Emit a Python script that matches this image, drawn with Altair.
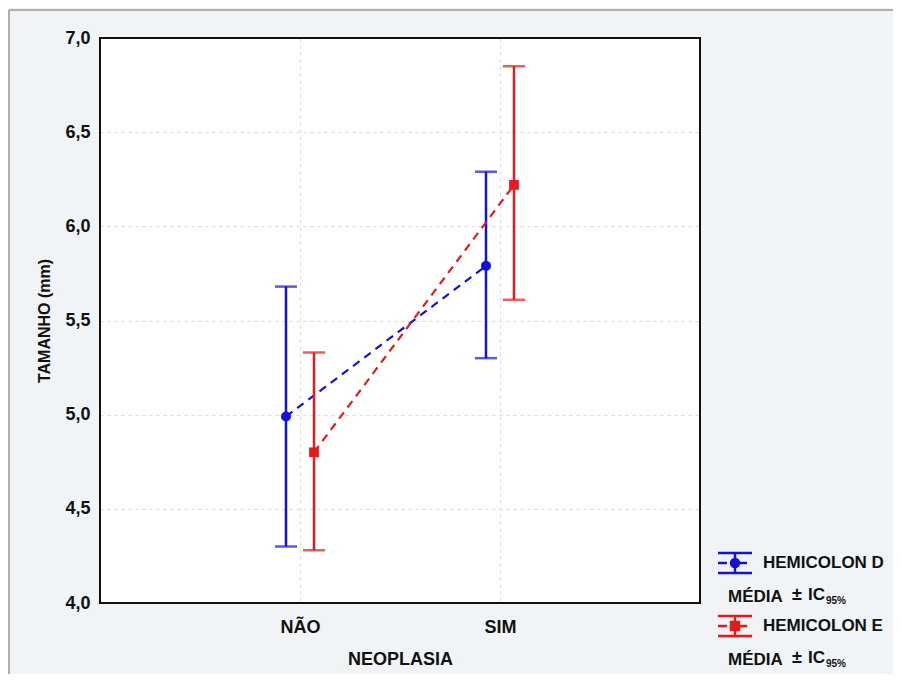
import altair as alt
import pandas as pd

categories = ["NÃO", "SIM"]
hd_mean = [4.99, 5.79]
hd_low = [4.30, 5.30]
hd_high = [5.68, 6.29]
he_mean = [4.80, 6.22]
he_low = [4.28, 5.61]
he_high = [5.33, 6.85]
y_ticks = [4.0, 4.5, 5.0, 5.5, 6.0, 6.5, 7.0]

BLUE = "#1212d8"
RED = "#e51b1b"
FONT = "Liberation Sans"

df_d = pd.DataFrame({"cat": categories, "mean": hd_mean, "low": hd_low, "high": hd_high})
df_e = pd.DataFrame({"cat": categories, "mean": he_mean, "low": he_low, "high": he_high})

xenc = alt.X("cat:N", sort=categories,
             scale=alt.Scale(type="point", padding=1, domain=categories),
             axis=alt.Axis(title="NEOPLASIA", labelAngle=0, labelFontSize=18,
                           labelFontWeight="bold", labelPadding=15, titlePadding=14,
                           titleFontSize=18, titleFontWeight="bold", ticks=False,
                           domain=False, grid=True, gridDash=[3, 4], gridColor="#d9d9d9",
                           labelColor="#111", titleColor="#111", labelFont=FONT, titleFont=FONT))


def yenc(field):
    return alt.Y(f"{field}:Q", scale=alt.Scale(domain=[4.0, 7.0], nice=False, zero=False),
                 axis=alt.Axis(title="TAMANHO (mm)", values=y_ticks,
                               labelExpr="replace(format(datum.value, '.1f'), '.', ',')",
                               labelFontSize=18, labelFontWeight="bold", labelPadding=10,
                               titleFontSize=16, titleFontWeight="bold", titlePadding=12,
                               ticks=False, domain=False, grid=True, gridDash=[3, 4],
                               gridColor="#d9d9d9", labelColor="#111", titleColor="#111",
                               labelFont=FONT, titleFont=FONT))


def series(df, color, off, shape, size):
    base = alt.Chart(df)
    line = base.mark_line(color=color, strokeWidth=2.2, strokeDash=[8, 6], xOffset=off).encode(
        x=xenc, y=yenc("mean"))
    rule = base.mark_rule(color=color, strokeWidth=2.5, xOffset=off).encode(
        x=xenc, y=yenc("low"), y2="high:Q")
    cap_lo = base.mark_tick(color=color, size=22, thickness=2.5, xOffset=off, orient="horizontal").encode(
        x=xenc, y=yenc("low"))
    cap_hi = base.mark_tick(color=color, size=22, thickness=2.5, xOffset=off, orient="horizontal").encode(
        x=xenc, y=yenc("high"))
    pt = base.mark_point(color=color, filled=True, opacity=1, shape=shape, size=size, xOffset=off).encode(
        x=xenc, y=yenc("mean"))
    return [line, rule, cap_lo, cap_hi, pt]


layers = series(df_d, BLUE, -14, "circle", 100) + series(df_e, RED, 14, "square", 95)

one = pd.DataFrame({"k": [0]})

# plot frame drawn on top of the gridlines
plot_frame = alt.Chart(one).mark_rect(fill=None, filled=False, stroke="#111", strokeWidth=2).encode(
    x=alt.value(0), x2=alt.value(600), y=alt.value(0), y2=alt.value(565))


def leg_symbol(color, cy, shape):
    b = alt.Chart(one)
    out = []
    for dy in (-10, 10):
        out.append(b.mark_rule(color=color, strokeWidth=2.5).encode(
            x=alt.value(618), x2=alt.value(652), y=alt.value(cy + dy)))
    out.append(b.mark_rule(color=color, strokeWidth=2.5, strokeDash=[9, 11]).encode(
        x=alt.value(618), x2=alt.value(652), y=alt.value(cy)))
    out.append(b.mark_rule(color=color, strokeWidth=2.5).encode(
        x=alt.value(635), y=alt.value(cy - 10), y2=alt.value(cy + 10)))
    out.append(b.mark_point(color=color, filled=True, opacity=1, shape=shape, size=110).encode(
        x=alt.value(635), y=alt.value(cy)))
    return out


def leg_text(txt, x, y, size=17):
    return alt.Chart(one).mark_text(text=txt, font=FONT, fontWeight="bold", fontSize=size,
                                     align="left", baseline="middle", color="#111").encode(
        x=alt.value(x), y=alt.value(y))


legend = []
for color, cy, shape, name in [(BLUE, 525, "circle", "HEMICOLON D"), (RED, 588, "square", "HEMICOLON E")]:
    legend += leg_symbol(color, cy, shape)
    legend.append(leg_text(name, 663, cy))
    legend.append(leg_text("MÉDIA", 628, cy + 34))
    legend.append(leg_text("±", 692, cy + 32, 18))
    legend.append(leg_text("IC", 708, cy + 32))
    legend.append(leg_text("95%", 726, cy + 38, 10))

# outer frame (top and left edges)
frame = [
    alt.Chart(one).mark_rule(color="#9a9a9a", strokeWidth=1.5).encode(
        x=alt.value(-91), x2=alt.value(793), y=alt.value(-28)),
    alt.Chart(one).mark_rule(color="#9a9a9a", strokeWidth=1.5).encode(
        x=alt.value(-91), y=alt.value(-28), y2=alt.value(637)),
]

chart = alt.layer(*frame, *layers, plot_frame, *legend).properties(
    width=600, height=565,
    autosize=alt.AutoSizeParams(type="none"),
    padding={"left": 92, "top": 30, "right": 193, "bottom": 71},
    background="#f1f4f6",
).configure_view(stroke=None, fill="white")

chart.save("out.html", embed_options={"renderer": "svg", "actions": False})
